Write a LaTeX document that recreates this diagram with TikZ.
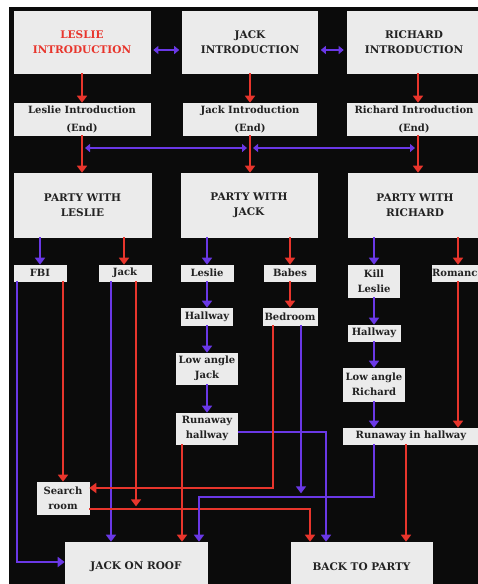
\documentclass[tikz,border=0pt]{standalone}
\usepackage{fontspec}
\setmainfont{DejaVu Serif}
\usetikzlibrary{arrows.meta}
\definecolor{bg}{HTML}{0B0B0B}
\definecolor{boxfill}{HTML}{EBEBEB}
\definecolor{txt}{HTML}{222222}
\definecolor{lred}{HTML}{E8352C}
\definecolor{lblue}{HTML}{6A38E6}
\tikzset{
  every node/.style={inner sep=0pt, align=center, text=txt},
  bigbox/.style={fill=boxfill, draw=white!85!gray, line width=0.6pt, font=\fontsize{10.5}{15}\selectfont\bfseries},
  endbox/.style={fill=boxfill, draw=white!85!gray, line width=0.6pt, minimum height=32pt, font=\fontsize{10}{18}\selectfont\bfseries},
  smallbox/.style={fill=boxfill, draw=white!85!gray, line width=0.6pt, font=\fontsize{10}{15}\selectfont\bfseries},
  redline/.style={draw=lred, line width=2.2pt, -{Triangle[width=10pt,length=7pt]}},
  blueline/.style={draw=lblue, line width=2.2pt, -{Triangle[width=10pt,length=7pt]}},
  bluedouble/.style={draw=lblue, line width=2.2pt, {Triangle[width=8pt,length=5pt]}-{Triangle[width=8pt,length=5pt]}},
}
\begin{document}
\begin{tikzpicture}[x=1pt,y=1pt]
\useasboundingbox (0,0) rectangle (478,-584);
\fill[white] (0,0) rectangle (478,-584);
\fill[bg] (9,-7) rectangle (478,-584);

% top row
\node[bigbox, minimum width=136pt, minimum height=62pt, text=lred] (lintro) at (82,-42) {LESLIE\\INTRODUCTION};
\node[bigbox, minimum width=135pt, minimum height=62pt] (jintro) at (250,-42) {JACK\\INTRODUCTION};
\node[bigbox, minimum width=134pt, minimum height=62pt] (rintro) at (414,-42) {RICHARD\\INTRODUCTION};

% second row
\node[endbox, minimum width=136pt] (lend) at (82,-119) {Leslie Introduction\\(End)};
\node[endbox, minimum width=133pt] (jend) at (250,-119) {Jack Introduction\\(End)};
\node[endbox, minimum width=133pt] (rend) at (414,-119) {Richard Introduction\\(End)};

% party row
\node[bigbox, minimum width=137pt, minimum height=64pt] (lparty) at (82.5,-205) {PARTY WITH\\LESLIE};
\node[bigbox, minimum width=136pt, minimum height=64pt] (jparty) at (249,-205) {PARTY WITH\\JACK};
\node[bigbox, minimum width=134pt, minimum height=64pt] (rparty) at (415,-205) {PARTY WITH\\RICHARD};

% row 4
\node[smallbox, minimum width=52pt, minimum height=16pt] (fbi) at (40,-273) {FBI};
\node[smallbox, minimum width=52pt, minimum height=16pt] (ljack) at (125,-273) {Jack};
\node[smallbox, minimum width=52pt, minimum height=16pt] (jleslie) at (207,-273) {Leslie};
\node[smallbox, minimum width=51pt, minimum height=16pt] (babes) at (290,-273) {Babes};
\node[smallbox, minimum width=51pt, minimum height=32pt] (kill) at (374,-281) {Kill\\Leslie};
\node[smallbox, minimum width=52pt, minimum height=16pt] (romance) at (458,-273) {Romance};

% row 5
\node[smallbox, minimum width=51pt, minimum height=17pt] (jhall) at (207,-316.5) {Hallway};
\node[smallbox, minimum width=54pt, minimum height=17pt] (bedroom) at (290,-316.5) {Bedroom};
\node[smallbox, minimum width=52pt, minimum height=16pt] (rhall) at (374,-333) {Hallway};

% row 6/7
\node[smallbox, minimum width=61pt, minimum height=31pt] (lowjack) at (207,-368.5) {Low angle\\Jack};
\node[smallbox, minimum width=61pt, minimum height=33pt] (lowrich) at (374,-384.5) {Low angle\\Richard};
\node[smallbox, minimum width=61pt, minimum height=31pt] (runjack) at (207,-428.5) {Runaway\\hallway};
\node[smallbox, minimum width=136pt, minimum height=16pt] (runrich) at (411,-436) {Runaway in hallway};

% bottom
\node[smallbox, minimum width=52pt, minimum height=32pt] (search) at (63,-498) {Search\\room};
\node[bigbox, minimum width=142pt, minimum height=50pt] (roof) at (136,-567) {JACK ON ROOF};
\node[bigbox, minimum width=141pt, minimum height=50pt] (party) at (361.5,-567) {BACK TO PARTY};

% top double arrows
\draw[bluedouble, shorten <=3pt, shorten >=3pt] ([yshift=-8pt]lintro.east) -- ([yshift=-8pt]jintro.west);
\draw[bluedouble, shorten <=3pt, shorten >=3pt] ([yshift=-8pt]jintro.east) -- ([yshift=-8pt]rintro.west);

% intro -> end
\draw[redline] (lintro.south) -- (lend.north);
\draw[redline] (jintro.south) -- (jend.north);
\draw[redline] ([xshift=4pt]rintro.south) -- ([xshift=4pt]rend.north);

% blue horizontal at row 2
\coordinate (h1) at (82,-148);
\coordinate (h2) at (250,-148);
\coordinate (h3) at (418,-148);
\draw[bluedouble, shorten <=3pt, shorten >=3pt] (h1) -- (h2);
\draw[bluedouble, shorten <=3pt, shorten >=3pt] (h2) -- (h3);

% end -> party
\draw[redline] (lend.south) -- (lend.south |- lparty.north);
\draw[redline] (jend.south) -- (jend.south |- jparty.north);
\draw[redline] ([xshift=4pt]rend.south) -- ([xshift=4pt]rend.south |- rparty.north);

% party -> choices
\draw[blueline] (fbi.north |- lparty.south) -- (fbi.north);
\draw[redline] ([xshift=-1pt]ljack.north |- lparty.south) -- ([xshift=-1pt]ljack.north);
\draw[blueline] (jleslie.north |- jparty.south) -- (jleslie.north);
\draw[redline] (babes.north |- jparty.south) -- (babes.north);
\draw[blueline] (kill.north |- rparty.south) -- (kill.north);
\draw[redline] (romance.north |- rparty.south) -- (romance.north);

% chains
\draw[blueline] (jleslie.south) -- (jhall.north);
\draw[blueline] (jhall.south) -- (lowjack.north);
\draw[blueline] (lowjack.south) -- (runjack.north);
\draw[redline] (babes.south) -- (bedroom.north);
\draw[blueline] (kill.south) -- (rhall.north);
\draw[blueline] (rhall.south) -- (lowrich.north);
\draw[blueline] (lowrich.south) -- (lowrich.south |- runrich.north);
\draw[redline] (romance.south) -- (romance.south |- runrich.north);

% long connectors
\draw[blueline] ([xshift=-23pt]fbi.south) |- ([yshift=5pt]roof.west);
\draw[redline] (search.north |- fbi.south) -- (search.north);
\draw[blueline] ([xshift=-14pt]ljack.south) -- ([xshift=-14pt]ljack.south |- roof.north);
\draw[redline] ([xshift=11pt]ljack.south) -- ++(0,-225);
\draw[redline] ([yshift=-11pt]search.east) -| ([xshift=-51.5pt]party.north);
\draw[redline] ([xshift=-25pt]runjack.south) -- ([xshift=-25pt]runjack.south |- roof.north);
\draw[blueline] ([yshift=-3.5pt]runjack.east) -| ([xshift=-35.5pt]party.north);
\draw[redline] ([xshift=-17pt]bedroom.south) |- ([yshift=10pt]search.east);
\draw[blueline] ([xshift=11pt]bedroom.south) -- ++(0,-168);
\draw[blueline] (runrich.south -| lowrich.south) -- ++(0,-53) -| ([xshift=63pt]roof.north);
\draw[redline] ([xshift=-5pt]runrich.south) -- ([xshift=-5pt]runrich.south |- party.north);
\end{tikzpicture}
\end{document}
